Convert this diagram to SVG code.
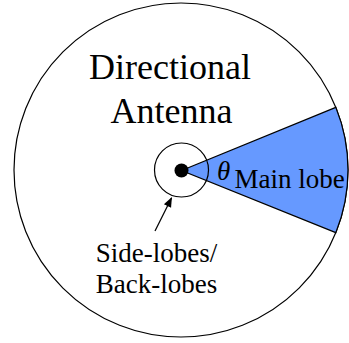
<svg xmlns="http://www.w3.org/2000/svg" width="349" height="343" viewBox="0 0 349 343">
<style>
.t{font-family:"Liberation Serif","Times New Roman",serif;fill:#000}
.ln{fill:none;stroke:#000;stroke-width:1.2}
</style>
<defs>
<marker id="ah" markerWidth="10" markerHeight="10" refX="9" refY="5" orient="auto" markerUnits="userSpaceOnUse" viewBox="0 0 10 10">
<path d="M0,1 L10,5 L0,9 Z" fill="#000"/>
</marker>
</defs>
<rect width="349" height="343" fill="#fff"/>
<g id="outer">
<circle cx="181" cy="170" r="167" fill="#fff" stroke="#000" stroke-width="1.2"/>
</g>
<g id="mainlobe">
<path d="M181.5,170.5 L335.8,107.4 A167,167 0 0 1 335.8,232.6 Z" fill="#6699FF" stroke="#000" stroke-width="1.2"/>
</g>
<g id="sidelobes">
<circle cx="181.5" cy="170" r="27" class="ln"/>
</g>
<g id="antenna">
<circle cx="181.5" cy="170.5" r="7" fill="#000"/>
</g>
<g id="connectors">
<line x1="155" y1="231" x2="171.5" y2="198" class="ln" marker-end="url(#ah)"/>
</g>
<g id="labels">
<text class="t" x="170" y="79" font-size="36" text-anchor="middle">Directional</text>
<text class="t" x="171.5" y="123" font-size="36" text-anchor="middle">Antenna</text>
<text class="t" x="217" y="180" font-size="27" font-style="italic">θ</text>
<text class="t" x="234.5" y="188" font-size="27">Main lobe</text>
<text class="t" x="156.5" y="262" font-size="27" text-anchor="middle">Side-lobes/</text>
<text class="t" x="156.5" y="292.5" font-size="27" text-anchor="middle">Back-lobes</text>
</g>
</svg>
